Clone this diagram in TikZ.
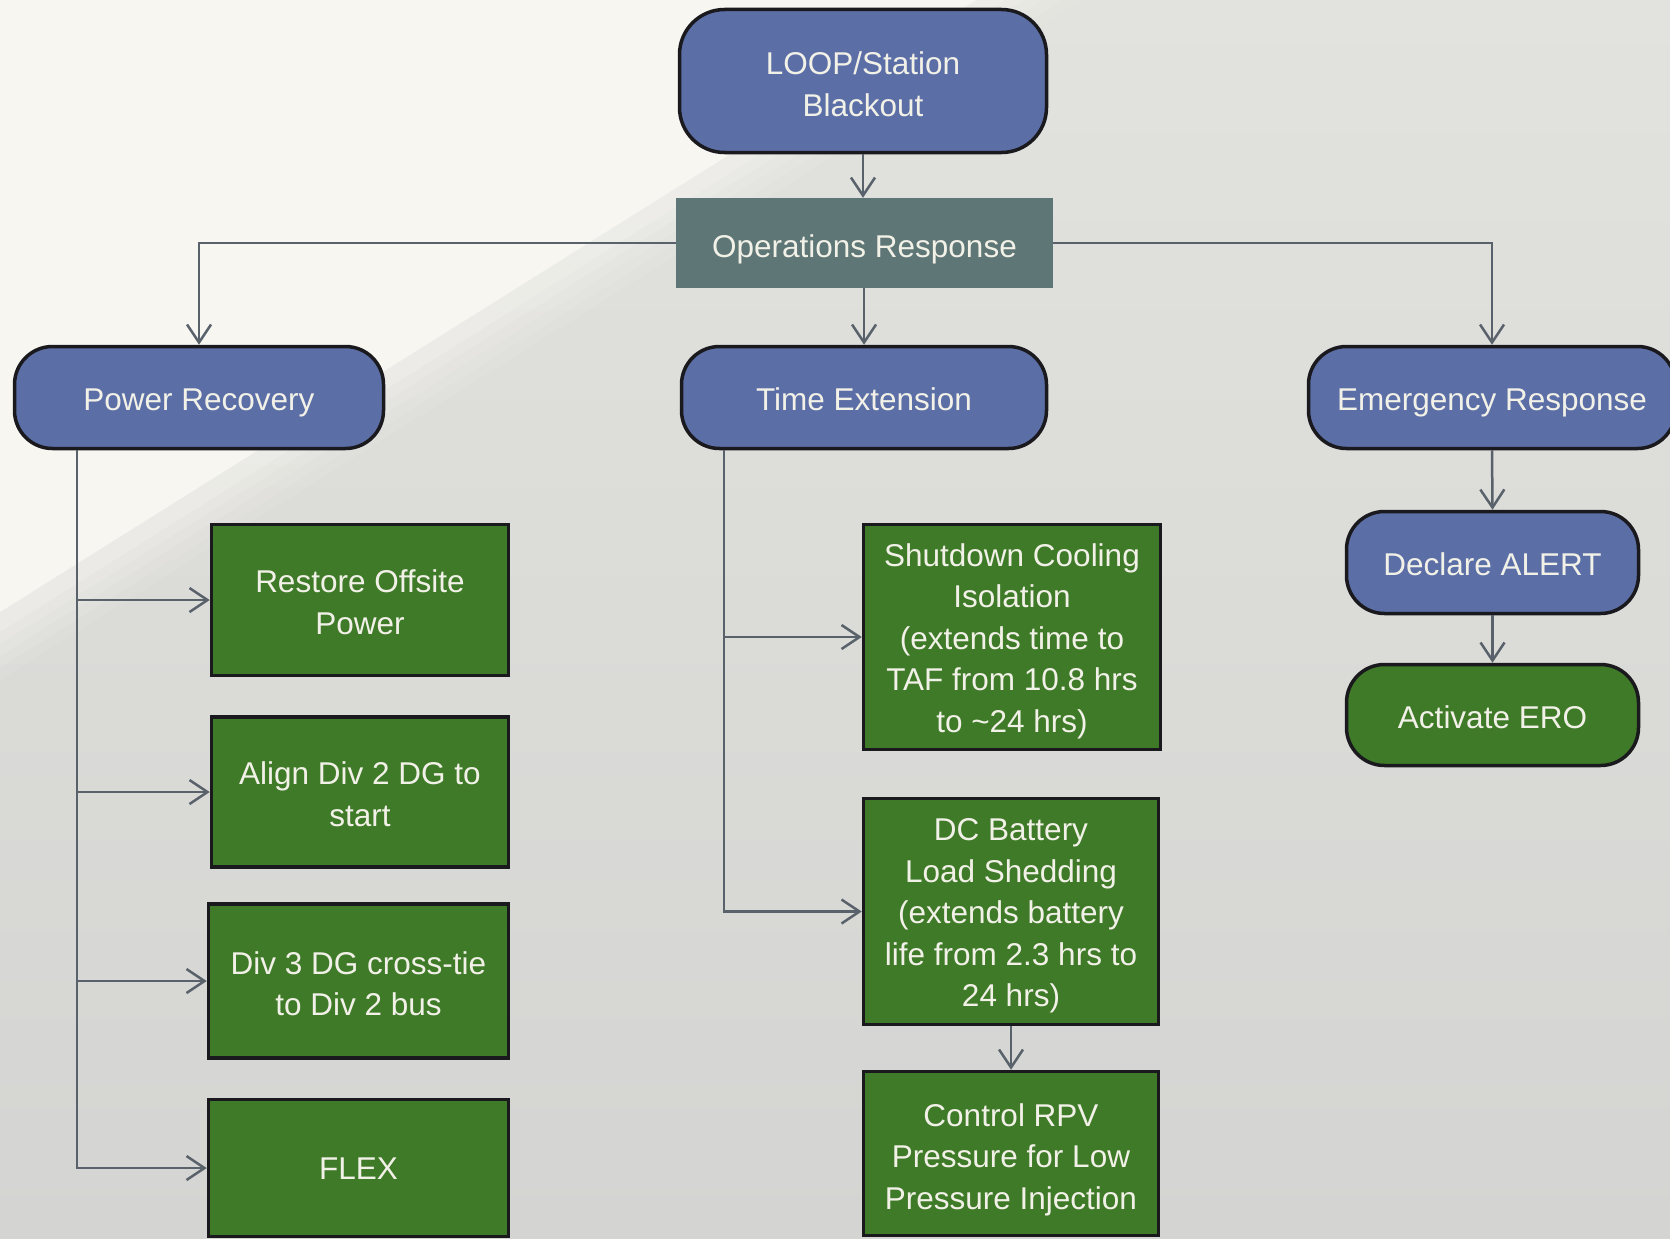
\documentclass[tikz,border=0pt]{standalone}
\usepackage{fontspec}
\setmainfont{Liberation Sans}
\usetikzlibrary{arrows.meta}
\definecolor{bglight}{HTML}{F7F6F1}
\definecolor{bgtop}{HTML}{E2E2DE}
\definecolor{bgbot}{HTML}{D4D4D2}
\definecolor{pillblue}{HTML}{5B6EA6}
\definecolor{boxgreen}{HTML}{3F7A28}
\definecolor{opsgray}{HTML}{5E7676}
\definecolor{linegray}{HTML}{59626B}
\definecolor{txt}{HTML}{F2F1E8}
\definecolor{edge}{HTML}{1A1A1E}
\newcommand{\ntext}[2][-5pt]{\raisebox{#1}[\height][\depth]{\begin{tabular}{@{}c@{}}#2\end{tabular}}}
\begin{document}
\begin{tikzpicture}[x=1pt,y=-1pt,
  every node/.style={font=\fontsize{31.5}{41.5}\selectfont, text=txt, align=center, inner sep=0pt},
  pill/.style={draw=edge, line width=3.5pt, fill=pillblue, rounded corners=38pt},
  gbox/.style={draw=edge, line width=3.5pt, fill=boxgreen},
  gpill/.style={pill, fill=boxgreen},
  opsbox/.style={fill=opsgray},
  wire/.style={draw=linegray, line width=2.5pt},
  conn/.style={wire, -{Straight Barb[length=18pt,width=24pt]}},
  ]
\useasboundingbox (0,0) rectangle (1670,1239);
\begin{scope}
\clip (0,0) rectangle (1670,1239);
% background
\shade[top color=bgtop, bottom color=bgbot] (0,0) rectangle (1670,1239);
\foreach \d/\o in {60/0.1,48/0.12,36/0.15,24/0.2,12/0.3}{
  \fill[bglight, opacity=\o] (0,0) -- ({986+\d*1.6},0) -- (0,{620+\d}) -- cycle;
}
\fill[bglight] (0,0) -- (976,0) -- (0,612) -- cycle;

% nodes
\node[pill, rounded corners=45pt, minimum width=367pt, minimum height=143pt] (loop) at (863,81) {\ntext[-6pt]{LOOP/Station\\Blackout}};
\node[opsbox, minimum width=377pt, minimum height=90pt] (ops) at (864.5,243) {\ntext[-6pt]{Operations Response}};
\node[pill, minimum width=369pt, minimum height=102pt] (power) at (199,397.5) {\ntext{Power Recovery}};
\node[pill, minimum width=365pt, minimum height=102pt] (time) at (864,397.5) {\ntext{Time Extension}};
\node[pill, minimum width=367pt, minimum height=102pt] (emerg) at (1492,397.5) {\ntext{Emergency Response}};
\node[pill, minimum width=292pt, minimum height=102pt] (alert) at (1492.5,562.5) {\ntext{Declare ALERT}};
\node[gpill, minimum width=292pt, minimum height=101pt] (ero) at (1492.5,715) {\ntext{Activate ERO}};

\node[gbox, minimum width=297pt, minimum height=151pt] (restore) at (360,600) {\ntext{Restore Offsite\\Power}};
\node[gbox, minimum width=297pt, minimum height=150pt] (align) at (360,792) {\ntext{Align Div 2 DG to\\start}};
\node[gbox, minimum width=300pt, minimum height=154pt] (div3) at (358.5,981) {\ntext[-5.5pt]{Div 3 DG cross-tie\\to Div 2 bus}};
\node[gbox, minimum width=300pt, minimum height=137pt] (flex) at (358.5,1168) {\ntext[-3.5pt]{FLEX}};

\node[gbox, minimum width=297pt, minimum height=225pt] (sdc) at (1012,637) {\ntext[-4pt]{Shutdown Cooling\\Isolation\\(extends time to\\TAF from 10.8 hrs\\to \textasciitilde24 hrs)}};
\node[gbox, minimum width=295pt, minimum height=226pt] (dc) at (1011,911.5) {\ntext[-4pt]{DC Battery\\Load Shedding\\(extends battery\\life from 2.3 hrs to\\24 hrs)}};
\node[gbox, minimum width=295pt, minimum height=164pt] (rpv) at (1011,1153.5) {\ntext[-6pt]{Control RPV\\Pressure for Low\\Pressure Injection}};

% connectors
\coordinate (pb) at (77,0);
\coordinate (tb) at (724,0);
\draw[conn] (loop.south) -- (loop.south |- ops.north);
\draw[conn] (time.north |- ops.south) -- (time.north);
\draw[conn] (ops.west) -| (power.north);
\draw[conn] (ops.east) -| (emerg.north);
\draw[conn] (emerg.south) -- (alert.north);
\draw[conn] (alert.south) -- (ero.north);
\draw[conn] (dc.south) -- (rpv.north);

\draw[conn] (power.south -| pb) |- (flex.west);
\draw[conn] (pb |- restore.west) -- (restore.west);
\draw[conn] (pb |- align.west) -- (align.west);
\draw[conn] (pb |- div3.west) -- (div3.west);

\draw[conn] (time.south -| tb) |- (dc.west);
\draw[conn] (tb |- sdc.west) -- (sdc.west);
\end{scope}
\end{tikzpicture}
\end{document}
